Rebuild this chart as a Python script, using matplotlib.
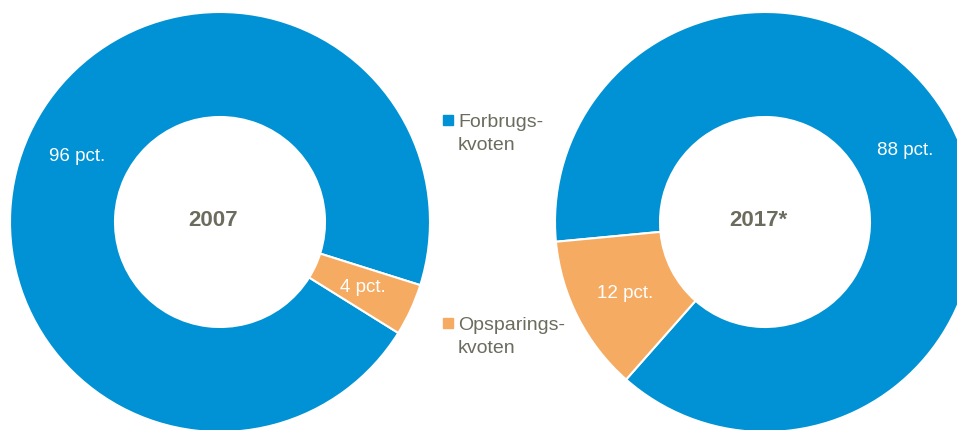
"""Donut charts: forbrugskvote vs. opsparingskvote, 2007 and 2017*."""

import matplotlib.pyplot as plt
from matplotlib.patches import Rectangle

plt.rcParams["font.family"] = ["Liberation Sans Narrow", "Liberation Sans", "DejaVu Sans"]

# Data
years = ["2007", "2017*"]
categories = ["Forbrugs-\nkvoten", "Opsparings-\nkvoten"]
forbrug = [96, 88]
opsparing = [4, 12]
start_angles = [-17.5, 228.6]

BLUE = "#0092d4"
ORANGE = "#f5ab62"
GREY = "#6b6b5e"

W, H = 957, 430
fig = plt.figure(figsize=(W / 100, H / 100), dpi=100)
ax = fig.add_axes([0, 0, 1, 1])

centers = [(220, H - 222), (765, H - 222)]
radius = 210

for i, year in enumerate(years):
    wedges, texts, autotexts = ax.pie(
        [forbrug[i], opsparing[i]],
        colors=[BLUE, ORANGE],
        startangle=start_angles[i],
        counterclock=True,
        center=centers[i],
        radius=radius,
        autopct=lambda p: f"{p:.0f} pct.",
        pctdistance=0.75,
        wedgeprops=dict(width=radius / 2, edgecolor="white", linewidth=1.5),
        textprops=dict(color="white", fontsize=13.5),
    )
    ax.text(centers[i][0] - 7, centers[i][1] + 2, year, ha="center", va="center",
            fontsize=16, fontweight="bold", color=GREY)

ax.set_xlim(0, W)
ax.set_ylim(0, H)
ax.set_aspect("equal")
ax.axis("off")

# Legend in the middle
legend_y = [H - 120, H - 323]
for label, color, y in zip(categories, [BLUE, ORANGE], legend_y):
    ax.add_patch(Rectangle((443, y - 5), 10, 10, color=color, clip_on=False))
    ax.text(458, y + 6, label, ha="left", va="top", fontsize=14, color=GREY,
            linespacing=1.45)

fig.savefig("out.png", dpi=100)
